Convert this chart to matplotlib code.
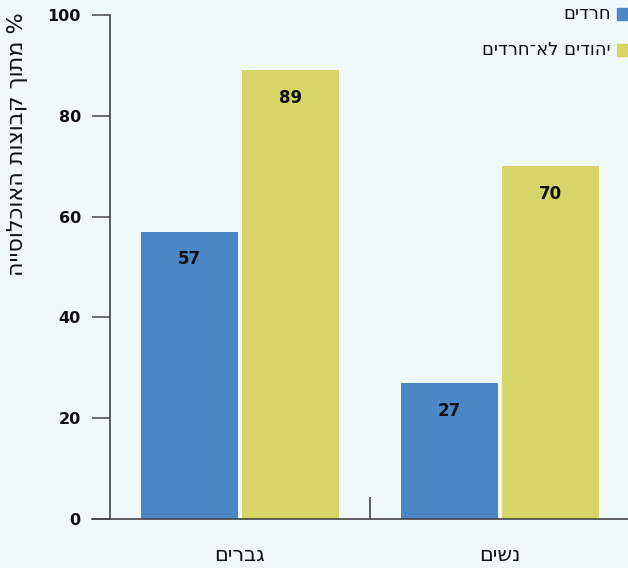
import numpy as np
import matplotlib.pyplot as plt


def rtl(s):
    # matplotlib has no bidi support, so Hebrew strings are reversed for display
    return s[::-1]


groups = ['גברים', 'נשים']
series = ['חרדים', 'יהודים לא־חרדים']
haredi = [57, 27]
non_haredi = [89, 70]
ylabel = '% מתוך קבוצות האוכלוסייה'
yticks = [0, 20, 40, 60, 80, 100]

bg = '#f0f8fa'
blue = '#4b87c5'
yellow = '#d7d567'
axis_col = '#444444'

fig = plt.figure(figsize=(6.28, 5.68), dpi=100, facecolor=bg)
ax = fig.add_axes([110 / 628, 1 - 519 / 568, 518 / 628, 504 / 568], facecolor=bg)

x = np.arange(len(groups))
w = 97 / 260
off = 50.5 / 260
b1 = ax.bar(x - off, haredi, w, color=blue, label=rtl(series[0]))
b2 = ax.bar(x + off, non_haredi, w, color=yellow, label=rtl(series[1]))

for bars in (b1, b2):
    for r in bars:
        h = r.get_height()
        ax.text(r.get_x() + r.get_width() / 2, h - 5.5, f'{h:g}', ha='center', va='center',
                fontsize=12, fontweight='bold', color='#111111')

ax.set_xlim(-0.5, 1 + 128 / 260)
ax.set_ylim(0, 100)

ax.spines['top'].set_visible(False)
ax.spines['right'].set_visible(False)
ax.spines['left'].set_color(axis_col)
ax.spines['bottom'].set_color(axis_col)
ax.spines['left'].set_linewidth(1.2)
ax.spines['bottom'].set_linewidth(1.2)

ax.set_yticks(yticks)
ax.set_yticklabels([str(v) for v in yticks], fontsize=11.5, fontweight='bold', color='#111111')
ax.tick_params(axis='y', length=13, width=1.2, color='#555555', pad=8)

# group labels below the baseline, separator tick between the groups
ax.set_xticks(x)
ax.set_xticklabels([rtl(g) for g in groups], fontsize=15, color='#111111')
ax.tick_params(axis='x', length=0, pad=19)
ax.set_xticks([0.5], minor=True)
ax.tick_params(axis='x', which='minor', direction='in', length=16, width=1.2, color=axis_col)

# baseline runs a little left of the y axis
ax.plot([-0.5 - 18 / 260, -0.5], [0, 0], color=axis_col, lw=1.2, clip_on=False)

fig.text(18 / 628, 1 - 144 / 568, rtl(ylabel), rotation=90, ha='center', va='center',
         fontsize=16, color='#111111')

# legend, text to the left of each swatch
for i, (name, col) in enumerate(zip(series, [blue, yellow])):
    y = 1 - (14 + 36 * i) / 568
    fig.patches.append(plt.Rectangle((617 / 628, y - 6 / 568), 11 / 628, 12 / 568,
                                     transform=fig.transFigure, color=col, figure=fig))
    fig.text(611 / 628, y, rtl(name), ha='right', va='center', fontsize=13, color='#111111')

fig.savefig('out.png', dpi=100, facecolor=bg)
